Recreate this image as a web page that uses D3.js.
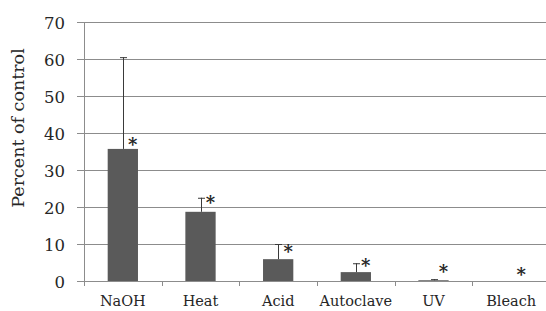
<!DOCTYPE html>
<meta charset="utf-8">
<head>
	<title>Percent of control</title>
	<script type="text/javascript" src="https://cdn.jsdelivr.net/npm/d3@7/dist/d3.min.js"></script>
	<style>
		body { margin: 0; background: #fff; }
		text { font-family: "DejaVu Serif", serif; fill: #262626; }
	</style>
</head>
<body>
	<div id="chart"></div>
<script>
	// values
	var treatments = ["NaOH", "Heat", "Acid", "Autoclave", "UV", "Bleach"];
	var means      = [35.7, 18.7, 5.9, 2.4, 0.2, 0];
	var errTops    = [60.5, 22.5, 10.0, 4.8, 0.5, 0];
	var starLevels = [37.5, 22.0, 8.6, 4.9, 3.2, 2.4];
	var yTicks     = [0, 10, 20, 30, 40, 50, 60, 70];

	var width = 546, height = 311;
	var m = {left: 84, right: -4, top: 22, bottom: 30};

	var svg = d3.select("#chart").append("svg")
		.attr("width", width)
		.attr("height", height);

	var x = d3.scaleBand()
		.domain(treatments)
		.range([m.left, width - m.right]);

	var y = d3.scaleLinear()
		.domain([0, 70])
		.range([height - m.bottom, m.top]);

	var barW = x.bandwidth() * 0.39;

	// gridlines + y labels
	var grid = svg.append("g");
	grid.selectAll("line").data(yTicks).enter().append("line")
		.attr("x1", m.left - 7)
		.attr("x2", width)
		.attr("y1", function(d) { return y(d) + 0.5; })
		.attr("y2", function(d) { return y(d) + 0.5; })
		.attr("stroke", "#8c8c8c")
		.attr("stroke-width", 1);

	grid.selectAll("text").data(yTicks).enter().append("text")
		.attr("x", 65)
		.attr("y", function(d) { return y(d); })
		.attr("dy", "0.4em")
		.attr("text-anchor", "end")
		.style("font-size", "16.5px")
		.text(function(d) { return d; });

	// y axis line
	svg.append("line")
		.attr("x1", m.left + 0.5).attr("x2", m.left + 0.5)
		.attr("y1", y(70)).attr("y2", y(0))
		.attr("stroke", "#8c8c8c");

	// x ticks at band edges
	var edges = treatments.map(function(d) { return x(d); });
	svg.selectAll(".xtick").data(edges).enter().append("line")
		.attr("class", "xtick")
		.attr("x1", function(d) { return Math.round(d) + 0.5; })
		.attr("x2", function(d) { return Math.round(d) + 0.5; })
		.attr("y1", y(0)).attr("y2", y(0) + 5)
		.attr("stroke", "#8c8c8c");

	// bars
	svg.selectAll(".bar").data(treatments).enter().append("rect")
		.attr("class", "bar")
		.attr("x", function(d) { return x(d) + (x.bandwidth() - barW) / 2; })
		.attr("width", barW)
		.attr("y", function(d, i) { return y(means[i]); })
		.attr("height", function(d, i) { return y(0) - y(means[i]); })
		.attr("fill", "#5a5a5a");

	// error bars (upper only)
	var eb = svg.selectAll(".err").data(treatments).enter().append("g")
		.attr("class", "err")
		.filter(function(d, i) { return errTops[i] > means[i]; });
	eb.append("line")
		.attr("x1", function(d) { return Math.round(x(d) + x.bandwidth() / 2) + 0.5; })
		.attr("x2", function(d) { return Math.round(x(d) + x.bandwidth() / 2) + 0.5; })
		.attr("y1", function(d) { return y(means[treatments.indexOf(d)]); })
		.attr("y2", function(d) { return y(errTops[treatments.indexOf(d)]); })
		.attr("stroke", "#3a3a3a");
	eb.append("line")
		.attr("x1", function(d) { return Math.round(x(d) + x.bandwidth() / 2) - 3; })
		.attr("x2", function(d) { return Math.round(x(d) + x.bandwidth() / 2) + 4; })
		.attr("y1", function(d) { return y(errTops[treatments.indexOf(d)]) + 0.5; })
		.attr("y2", function(d) { return y(errTops[treatments.indexOf(d)]) + 0.5; })
		.attr("stroke", "#3a3a3a");

	// significance stars
	svg.selectAll(".star").data(treatments).enter().append("text")
		.attr("class", "star")
		.attr("x", function(d) { return x(d) + x.bandwidth() / 2 + 10; })
		.attr("y", function(d, i) { return y(starLevels[i]); })
		.attr("dy", "0.5em")
		.attr("text-anchor", "middle")
		.style("font-size", "18px")
		.style("font-weight", "bold")
		.text("*");

	// category labels
	svg.selectAll(".xlab").data(treatments).enter().append("text")
		.attr("class", "xlab")
		.attr("x", function(d) { return x(d) + x.bandwidth() / 2; })
		.attr("y", 306)
		.attr("text-anchor", "middle")
		.style("font-size", "14.5px")
		.text(function(d) { return d; });

	// y title
	svg.append("text")
		.attr("transform", "translate(24,128) rotate(-90)")
		.attr("text-anchor", "middle")
		.style("font-size", "17.5px")
		.text("Percent of control");
</script>
</body>
